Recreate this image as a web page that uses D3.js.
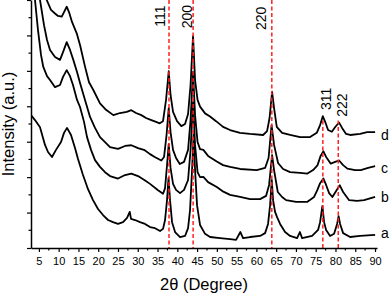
<!DOCTYPE html>
<html>
<head>
<meta charset="utf-8">
<script src="https://cdn.jsdelivr.net/npm/d3@7"></script>
<style>
body { margin: 0; background: #fff; }
text { font-family: Arial, "Liberation Sans", sans-serif; fill: #000; }
</style>
</head>
<body>
<script>
// XRD patterns (2theta in degrees, intensity in a.u.)
var twoThetaA = [3.0,4.01,5.28,6.54,7.30,8.31,9.32,10.59,11.35,12.11,13.12,14.13,14.89,16.15,17.42,18.68,19.95,21.21,22.48,23.74,25.01,26.27,27.29,27.97,28.30,29.31,30.57,31.84,33.10,34.37,35.63,36.39,36.90,37.40,37.78,38.16,38.67,39.43,40.69,41.96,42.72,43.22,43.73,44.11,44.49,44.99,45.75,47.02,48.28,50.81,53.34,54.86,55.95,56.63,58.40,60.93,62.20,62.95,63.46,63.89,64.22,64.72,65.23,65.99,67.25,68.52,70.29,71.00,71.56,74.09,75.60,76.11,76.69,77.12,77.63,78.64,79.65,80.41,80.79,81.17,81.93,83.70,86.23,90.02];
var intensityA = [3.75,3.61,3.41,2.91,2.71,2.57,2.77,2.99,3.25,3.39,3.19,2.82,2.51,2.06,1.66,1.35,1.10,0.93,0.79,0.73,0.68,0.73,0.85,1.02,0.82,0.79,0.73,0.68,0.59,0.56,0.48,0.54,0.79,1.35,1.98,1.35,0.73,0.45,0.31,0.34,0.56,1.07,2.20,3.19,2.20,1.21,0.65,0.40,0.31,0.28,0.25,0.23,0.45,0.28,0.31,0.34,0.42,0.68,1.21,1.92,1.35,1.02,0.87,0.68,0.45,0.34,0.28,0.45,0.28,0.34,0.51,0.73,1.19,0.73,0.51,0.34,0.40,0.68,0.90,0.68,0.42,0.31,0.34,0.37];

var twoThetaB = [3.0,4.01,4.77,5.53,6.11,7.05,7.81,9.07,10.34,11.10,12.03,12.87,13.62,14.64,15.40,16.41,17.17,18.18,19.19,20.45,21.72,22.98,25.01,26.78,28.37,30.07,31.76,33.10,35.13,36.39,36.90,37.40,37.83,38.29,38.92,39.68,40.69,41.70,42.72,43.35,43.98,44.49,45.12,45.75,46.59,47.78,49.98,51.65,53.34,55.87,58.40,60.93,62.45,63.21,63.97,64.47,65.41,66.50,67.51,70.04,72.82,74.59,75.43,76.11,76.95,77.63,78.39,79.22,80.16,81.09,81.93,83.45,85.47,87.24,90.02];
var intensityB = [7.85,7.00,6.15,5.45,5.11,4.85,4.74,4.54,4.60,4.83,5.02,4.85,4.60,4.18,3.98,3.56,3.13,2.77,2.48,2.29,2.14,2.03,1.96,2.06,2.10,2.03,1.91,1.81,1.63,1.53,1.69,2.34,2.93,2.26,1.81,1.64,1.55,1.64,1.92,2.77,4.12,2.91,2.14,2.00,2.01,1.86,1.72,1.59,1.50,1.44,1.38,1.38,1.47,1.78,2.62,2.20,1.58,1.44,1.35,1.30,1.30,1.44,1.64,1.83,1.96,1.78,1.55,1.44,1.61,1.77,1.58,1.35,1.33,1.35,1.44];

var twoThetaC = [3.0,4.01,5.28,6.29,7.05,7.81,9.07,10.34,11.10,12.03,12.87,13.70,14.64,15.40,16.66,17.93,19.19,20.45,21.72,22.98,25.01,26.78,28.37,30.07,31.76,33.10,34.29,35.96,36.65,37.28,37.83,38.29,38.92,39.68,40.62,41.70,42.72,43.35,43.98,44.49,45.12,45.75,46.59,47.78,49.98,51.57,53.34,55.87,60.09,62.20,63.08,63.84,64.47,65.48,66.75,68.52,71.05,72.90,74.34,75.43,76.24,76.95,77.63,78.81,79.90,80.91,81.93,83.01,84.96,86.40,88.25,90.02];
var intensityC = [8.13,7.56,7.00,6.29,5.87,5.59,5.39,5.31,5.53,5.81,5.59,5.31,4.97,4.66,4.18,3.70,3.39,3.13,2.99,2.85,2.80,2.88,2.90,2.82,2.76,2.65,2.57,2.47,2.57,3.19,3.95,3.27,2.77,2.54,2.37,2.43,2.77,3.61,4.97,3.75,2.99,2.79,2.77,2.60,2.44,2.34,2.29,2.23,2.20,2.26,2.54,3.47,2.91,2.40,2.23,2.14,2.12,2.10,2.20,2.33,2.60,2.73,2.57,2.38,2.43,2.47,2.34,2.24,2.20,2.20,2.26,2.31];

var twoThetaD = [3.0,4.77,6.04,6.97,8.06,9.07,9.83,10.77,11.35,12.03,12.61,13.37,14.56,15.40,16.66,17.67,18.76,20.45,21.97,23.82,25.51,27.21,28.37,29.56,30.90,32.09,33.43,34.62,35.56,36.39,37.15,37.83,38.29,38.92,39.93,41.02,41.96,42.72,43.35,43.98,44.49,45.12,45.75,47.02,48.28,49.80,51.57,53.34,55.87,58.40,61.69,62.70,63.33,63.97,64.47,65.15,66.50,68.52,71.05,73.58,75.27,76.11,76.79,77.50,78.13,79.07,80.03,80.91,81.67,82.68,83.70,86.23,88.00,90.02];
var intensityD = [8.69,7.85,7.28,7.00,6.72,6.62,6.55,6.53,6.66,6.81,6.66,6.38,6.06,5.73,5.12,4.68,4.46,4.08,3.90,3.75,3.81,3.84,3.89,3.81,3.75,3.67,3.61,3.56,3.52,3.58,4.18,4.99,4.32,3.84,3.58,3.44,3.50,3.78,4.60,5.98,4.74,4.18,3.99,3.80,3.71,3.58,3.42,3.33,3.25,3.22,3.19,3.30,3.67,4.41,3.95,3.42,3.25,3.19,3.13,3.13,3.25,3.47,3.72,3.53,3.33,3.28,3.43,3.54,3.39,3.22,3.19,3.22,3.27,3.27];

var sampleNames = ["a", "b", "c", "d"];
var sampleLabelY = [0.42, 1.44, 2.26, 3.19];

// reflections
var hkl = ["111", "200", "220", "311", "222"];
var peakPos = [37.9, 44.0, 63.9, 76.8, 80.7];
var peakLineTop = [7, 7, 7, 3.6, 3.6];

var xTicks = d3.range(5, 91, 5);

var w = 392, h = 295;

var svg = d3.select("body")
    .append("svg")
    .attr("width", w)
    .attr("height", h);

var x = d3.scaleLinear().domain([3, 90.5]).range([31, 377]);
var y = d3.scaleLinear().domain([0, 7]).range([248, 0]);

svg.append("clipPath").attr("id", "plotclip")
    .append("rect")
    .attr("x", x.range()[0]).attr("y", 0)
    .attr("width", x.range()[1] - x.range()[0]).attr("height", 248);

var line = d3.line()
    .x(function(d) { return x(d[0]); })
    .y(function(d) { return y(d[1]); });

var series = [
    d3.zip(twoThetaA, intensityA),
    d3.zip(twoThetaB, intensityB),
    d3.zip(twoThetaC, intensityC),
    d3.zip(twoThetaD, intensityD)
];

svg.append("g")
    .attr("clip-path", "url(#plotclip)")
    .selectAll("path")
    .data(series)
    .enter().append("path")
    .attr("d", line)
    .attr("fill", "none")
    .attr("stroke", "#000")
    .attr("stroke-width", 1.8)
    .attr("stroke-linejoin", "round");

// dashed reference lines
svg.append("g")
    .selectAll("line")
    .data(peakPos)
    .enter().append("line")
    .attr("x1", function(d) { return x(d); })
    .attr("x2", function(d) { return x(d); })
    .attr("y1", function(d, i) { return y(peakLineTop[i]); })
    .attr("y2", y(0))
    .attr("stroke", "#ff2020")
    .attr("stroke-width", 1.5)
    .attr("stroke-dasharray", "4,2.5");

// hkl labels (rotated)
var hklDx = [-4.2, -1.5, -6, 8, 8.5];
var hklY = [26.7, 28.3, 30, 110, 116.7];
svg.append("g")
    .selectAll("text")
    .data(hkl)
    .enter().append("text")
    .attr("transform", function(d, i) {
        return "translate(" + (x(peakPos[i]) + hklDx[i]) + "," + hklY[i] + ") rotate(-90)";
    })
    .attr("font-size", 14)
    .text(function(d) { return d; });

// sample labels
svg.append("g")
    .selectAll("text")
    .data(sampleNames)
    .enter().append("text")
    .attr("x", 381)
    .attr("y", function(d, i) { return y(sampleLabelY[i]); })
    .attr("dy", "0.35em")
    .attr("font-size", 14)
    .text(function(d) { return d; });

// x axis
var xAxis = svg.append("g")
    .attr("transform", "translate(0,248)")
    .call(d3.axisBottom(x).tickValues(xTicks).tickSize(4).tickSizeOuter(0).tickPadding(5));
xAxis.selectAll("text").attr("font-size", 11).attr("font-family", "Arial, 'Liberation Sans', sans-serif");
xAxis.select(".domain").attr("stroke-width", 1.5);
xAxis.selectAll(".tick line").attr("stroke-width", 1.2);
svg.append("g")
    .attr("transform", "translate(0,248)")
    .selectAll("line")
    .data(xTicks.map(function(t) { return t + 2.5; }).filter(function(t) { return t < 90.5; }))
    .enter().append("line")
    .attr("x1", function(d) { return x(d); })
    .attr("x2", function(d) { return x(d); })
    .attr("y1", 0).attr("y2", 2.5)
    .attr("stroke", "#000").attr("stroke-width", 1.2);

// y axis, no labels
var yAxis = svg.append("g")
    .attr("transform", "translate(31,0)")
    .call(d3.axisLeft(y).tickValues(d3.range(0, 8, 1)).tickFormat("").tickSize(4).tickSizeOuter(0));
yAxis.select(".domain").attr("stroke-width", 1.5);
yAxis.selectAll(".tick line").attr("stroke-width", 1.2);
svg.append("g")
    .attr("transform", "translate(31,0)")
    .selectAll("line")
    .data(d3.range(0.5, 7, 1))
    .enter().append("line")
    .attr("x1", 0).attr("x2", -2.5)
    .attr("y1", function(d) { return y(d); })
    .attr("y2", function(d) { return y(d); })
    .attr("stroke", "#000").attr("stroke-width", 1.2);

// axis titles
svg.append("text")
    .attr("x", 204)
    .attr("y", 290)
    .attr("text-anchor", "middle")
    .attr("font-size", 16.5)
    .text("2θ (Degree)");

svg.append("text")
    .attr("transform", "translate(14,124) rotate(-90)")
    .attr("text-anchor", "middle")
    .attr("font-size", 16.5)
    .text("Intensity (a.u.)");
</script>
</body>
</html>
